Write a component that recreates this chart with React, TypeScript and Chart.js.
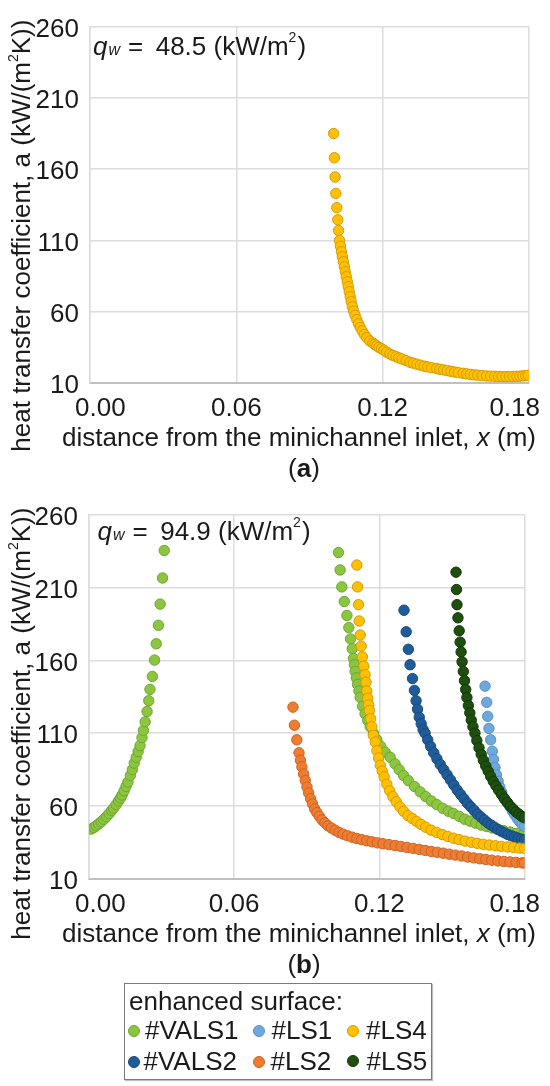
import React, { useEffect, useRef } from "react";
import { Chart, registerables } from "chart.js";

Chart.register(...registerables);

// ---------- axes ----------
const X_MIN = 0;
const X_MAX = 0.18;
const Y_MIN = 10;
const Y_MAX = 260;
const X_TICKS = [0, 0.06, 0.12, 0.18];
const X_TICK_LABELS = ["0.00", "0.06", "0.12", "0.18"];
const Y_TICKS = [10, 60, 110, 160, 210, 260];

// ---------- texts ----------
const X_TITLE_A = "distance from the minichannel inlet, ";
const X_TITLE_B = "x";
const X_TITLE_C = " (m)";
const Y_TITLE_A = "heat transfer coefficient, a (kW/(m";
const Y_TITLE_B = "2";
const Y_TITLE_C = "K))";
const QW_A = "48.5 (kW/m";
const QW_B = "94.9 (kW/m";
const LEGEND_TITLE = "enhanced surface:";

// ---------- data (x in m, heat transfer coefficient in kW/(m2K)) ----------
// chart (a), qw = 48.5 kW/m2
const LS4_A: [number, number][] = [
  [0.0999, 185], [0.1002, 168], [0.1005, 154.5], [0.1008, 143], [0.1012, 133], [0.1016, 124.5],
  [0.1019, 117], [0.1023, 110], [0.1027, 106], [0.1031, 102], [0.1035, 98.5], [0.1039, 95],
  [0.1043, 91.5], [0.1047, 88], [0.1051, 84.5], [0.1055, 81], [0.1059, 77.5], [0.1063, 74],
  [0.1067, 70.5], [0.1071, 67], [0.1076, 63.5], [0.1081, 60.5], [0.1087, 57.5], [0.1094, 54.5],
  [0.1101, 51.5], [0.1108, 49], [0.1116, 46.5], [0.1125, 44], [0.1135, 41.8], [0.1147, 39.5],
  [0.116, 38], [0.1168, 37], [0.1176, 36], [0.1185, 35], [0.1195, 34], [0.1205, 33],
  [0.1217, 31.6], [0.123, 30.3], [0.1242, 29.4], [0.1255, 28.5], [0.1267, 27.6], [0.128, 26.8],
  [0.1296, 25.7], [0.1312, 24.6], [0.1326, 23.9], [0.134, 23.2], [0.1355, 22.5], [0.137, 21.8],
  [0.1385, 21.3], [0.14, 20.8], [0.1421, 20.1], [0.1435, 19.6], [0.145, 19.2], [0.1465, 18.7],
  [0.148, 18.2], [0.1495, 17.7], [0.151, 17.3], [0.153, 16.8], [0.1545, 16.4], [0.156, 16],
  [0.1575, 15.7], [0.159, 15.5], [0.1608, 15.2], [0.1626, 14.9], [0.1643, 14.8], [0.166, 14.7],
  [0.1675, 14.6], [0.169, 14.5], [0.1705, 14.5], [0.172, 14.5], [0.1735, 14.6], [0.175, 14.7],
  [0.1763, 14.8], [0.1775, 15], [0.1787, 15.2], [0.1797, 15.4],
];

// chart (b), qw = 94.9 kW/m2
const VALS1_B: [number, number][] = [
  [0.0008, 44.2], [0.002, 45.3], [0.003, 46.5], [0.004, 47.8], [0.005, 49.2], [0.0061, 50.9],
  [0.0072, 52.7], [0.0083, 54.8], [0.0094, 57], [0.0102, 58.6], [0.0112, 61], [0.0122, 63.5],
  [0.013, 65.5], [0.0137, 67.6], [0.0145, 70.5], [0.0153, 73.5], [0.0161, 76.5], [0.0171, 81],
  [0.0179, 85], [0.0187, 89.5], [0.0195, 93.5], [0.0203, 97.5], [0.0211, 101.5], [0.0219, 107],
  [0.0225, 112], [0.0232, 117.8], [0.024, 124.9], [0.0247, 132.3], [0.0252, 140.1], [0.0262, 149],
  [0.0271, 160.2], [0.0278, 171.4], [0.0287, 184.1], [0.0294, 198.6], [0.0304, 216.5], [0.0311, 235.4],
  [0.1031, 234], [0.1038, 222], [0.1045, 210.4], [0.1055, 200.4], [0.1066, 190.8], [0.1074, 182.5],
  [0.1081, 174.7], [0.1088, 168], [0.1093, 161.3], [0.1097, 157], [0.11, 152.4], [0.1105, 148],
  [0.111, 143.5], [0.1116, 139], [0.1121, 134.6], [0.1131, 128.5], [0.1141, 123.4], [0.1152, 118.8],
  [0.1162, 114.5], [0.1176, 110], [0.119, 105.5], [0.1206, 101], [0.1224, 97], [0.1245, 93.5],
  [0.1265, 89], [0.1282, 85], [0.13, 81], [0.132, 77.5], [0.1345, 73.5], [0.1369, 69.8],
  [0.1392, 66.5], [0.1415, 63.5], [0.1438, 61], [0.1462, 58.5], [0.1485, 56.5], [0.1506, 55],
  [0.153, 53], [0.1553, 51], [0.1575, 49.7], [0.1598, 48.3], [0.1621, 47], [0.1644, 46],
  [0.1667, 45], [0.169, 44], [0.1713, 43.2], [0.174, 42.2], [0.1765, 41.3], [0.1796, 40.5],
];

const VALS2_B: [number, number][] = [
  [0.1302, 194.4], [0.1311, 179.6], [0.132, 167.6], [0.1327, 157], [0.1337, 147.5], [0.1345, 139.4],
  [0.1352, 132.3], [0.1358, 126.5], [0.1365, 121], [0.1373, 116.5], [0.1381, 112.5], [0.1389, 110],
  [0.14, 105.5], [0.1412, 101], [0.1425, 96.5], [0.1438, 92.5], [0.1452, 88.5], [0.1466, 85],
  [0.148, 81.5], [0.1494, 78], [0.1508, 74.5], [0.1522, 71], [0.1536, 68], [0.155, 65],
  [0.1564, 62], [0.1578, 59.5], [0.1592, 57], [0.1606, 54.5], [0.162, 52.5], [0.1634, 50.5],
  [0.1648, 48.5], [0.1662, 47], [0.1676, 45.5], [0.169, 44], [0.1704, 42.8], [0.1718, 41.6],
  [0.1732, 40.5], [0.1746, 39.6], [0.176, 38.8], [0.1774, 38], [0.1788, 37.3], [0.18, 36.8],
];

const LS1_B: [number, number][] = [
  [0.1637, 142.3], [0.1644, 131.2], [0.1648, 121.6], [0.1653, 113.3], [0.166, 105.5], [0.1667, 97.7],
  [0.1672, 92], [0.1678, 86.5], [0.1684, 81.5], [0.1691, 77], [0.1698, 73], [0.1706, 69.5],
  [0.1714, 66], [0.1722, 64], [0.1731, 62], [0.174, 59.5], [0.175, 56.5], [0.176, 54],
  [0.177, 51.5], [0.178, 49.5], [0.179, 47.5], [0.18, 46],
];

const LS2_B: [number, number][] = [
  [0.0843, 127.9], [0.0849, 115.5], [0.0859, 105.5], [0.0868, 96.6], [0.0874, 91.5], [0.088, 87],
  [0.0887, 82], [0.0894, 77.5], [0.0901, 73], [0.0908, 69], [0.0916, 65], [0.0924, 61.5],
  [0.0933, 58], [0.0942, 55.5], [0.0952, 53], [0.0963, 50.5], [0.0975, 48.5], [0.0988, 46.5],
  [0.1002, 45], [0.1017, 43.5], [0.1033, 42], [0.105, 40.8], [0.1068, 39.7], [0.1087, 38.7],
  [0.1107, 37.8], [0.1127, 37], [0.1148, 36.2], [0.117, 35.5], [0.1192, 34.8], [0.1215, 34.2],
  [0.124, 33.6], [0.1265, 33], [0.129, 32.3], [0.1315, 31.6], [0.134, 31], [0.1365, 30.3],
  [0.139, 29.6], [0.1415, 28.9], [0.144, 28.3], [0.1465, 27.7], [0.149, 27], [0.1515, 26.4],
  [0.154, 25.8], [0.1565, 25.1], [0.159, 24.5], [0.1615, 23.9], [0.164, 23.4], [0.1665, 22.9],
  [0.169, 22.4], [0.1715, 22], [0.174, 21.7], [0.1765, 21.4], [0.179, 21.1], [0.18, 21],
];

const LS4_B: [number, number][] = [
  [0.1107, 225.4], [0.111, 210.4], [0.1114, 198.2], [0.1117, 187], [0.1121, 177.4], [0.1125, 169.8],
  [0.113, 162.4], [0.1136, 156], [0.1141, 150.2], [0.1145, 145], [0.1148, 139], [0.1152, 134],
  [0.1156, 129.5], [0.1159, 125.6], [0.1164, 120], [0.1169, 114.5], [0.1175, 108.5], [0.1183, 104],
  [0.119, 98], [0.1197, 93], [0.1204, 88], [0.1212, 84], [0.122, 80], [0.1231, 75],
  [0.1243, 70.5], [0.1256, 66.5], [0.127, 63], [0.1285, 59.5], [0.13, 56.5], [0.1318, 53.5],
  [0.1336, 51.5], [0.1354, 49.5], [0.1372, 47.5], [0.1392, 45.5], [0.1414, 43.5], [0.1437, 42],
  [0.146, 40.5], [0.1483, 39.2], [0.1507, 38], [0.153, 37], [0.1555, 36], [0.158, 35.2],
  [0.1605, 34.5], [0.163, 33.8], [0.1655, 33.3], [0.168, 32.8], [0.1705, 32.4], [0.173, 32],
  [0.1755, 31.6], [0.178, 31.2], [0.18, 31],
];

const LS5_B: [number, number][] = [
  [0.1517, 220.5], [0.1519, 208.6], [0.1521, 198.2], [0.1525, 189.2], [0.153, 180.3], [0.1534, 172.5],
  [0.1538, 165.8], [0.1542, 159], [0.1547, 152.4], [0.1552, 146], [0.1557, 140], [0.1562, 134.5],
  [0.1568, 129], [0.1574, 124], [0.158, 119], [0.1587, 114.5], [0.1595, 110], [0.1603, 105],
  [0.1612, 100], [0.1621, 95.5], [0.163, 91.5], [0.164, 87.5], [0.165, 84], [0.166, 80.5],
  [0.1671, 77], [0.1682, 74], [0.1693, 71], [0.1705, 68], [0.1717, 65], [0.1729, 62.5],
  [0.1741, 60], [0.1753, 58], [0.1765, 56], [0.1777, 54.5], [0.1789, 53], [0.18, 52],
];

// ---------- styles ----------
const FAMILY = '"Liberation Sans", Arial, Helvetica, sans-serif';
const TEXT = "#1a1a1a";
const F26 = `26px ${FAMILY}`;
const F26I = `italic 26px ${FAMILY}`;
const F26B = `bold 26px ${FAMILY}`;
const F16I = `italic 16px ${FAMILY}`;
const F14 = `14px ${FAMILY}`;

const SERIES = {
  VALS1: { label: "#VALS1", fill: "#8cc63f", edge: "#6ea533" },
  LS1: { label: "#LS1", fill: "#6fa8dc", edge: "#5790c6" },
  LS4: { label: "#LS4", fill: "#ffc000", edge: "#d39a08" },
  VALS2: { label: "#VALS2", fill: "#1f5c99", edge: "#184a7d" },
  LS2: { label: "#LS2", fill: "#ee7d31", edge: "#c96424" },
  LS5: { label: "#LS5", fill: "#1e4f0e", edge: "#123a06" },
};

type Run = { text: string; font: string; dy?: number; gap?: number };

function runsWidth(ctx: CanvasRenderingContext2D, runs: Run[]) {
  let w = 0;
  for (const r of runs) {
    ctx.font = r.font;
    w += (r.gap || 0) + ctx.measureText(r.text).width;
  }
  return w;
}

function drawRuns(ctx: CanvasRenderingContext2D, runs: Run[], x: number, y: number) {
  let cx = x;
  for (const r of runs) {
    ctx.font = r.font;
    cx += r.gap || 0;
    ctx.fillText(r.text, cx, y + (r.dy || 0));
    cx += ctx.measureText(r.text).width;
  }
}

function makeTextPlugin(cfg: { qwText: string; qwDx: number; qwDy: number; panel: string }) {
  return {
    id: "panelTexts",
    afterDraw(chart: any) {
      const { ctx, chartArea, scales } = chart;
      const xs = scales.x;
      ctx.save();
      ctx.fillStyle = TEXT;
      ctx.textAlign = "left";
      ctx.textBaseline = "alphabetic";

      // x tick labels (kept inside the picture like the original)
      ctx.font = F26;
      X_TICKS.forEach((v, i) => {
        const label = X_TICK_LABELS[i];
        const w = ctx.measureText(label).width;
        let left = xs.getPixelForValue(v) - w / 2;
        left = Math.max(75, Math.min(540 - w, left));
        ctx.fillText(label, left, chartArea.bottom + 32.5);
      });

      // x title
      const xRuns: Run[] = [
        { text: X_TITLE_A, font: F26 },
        { text: X_TITLE_B, font: F26I },
        { text: X_TITLE_C, font: F26 },
      ];
      const xw = runsWidth(ctx, xRuns);
      drawRuns(ctx, xRuns, 299 - xw / 2, chartArea.bottom + 63);

      // panel label
      const pRuns: Run[] = [
        { text: "(", font: F26 },
        { text: cfg.panel, font: F26B },
        { text: ")", font: F26 },
      ];
      const pw = runsWidth(ctx, pRuns);
      drawRuns(ctx, pRuns, 304 - pw / 2, chartArea.bottom + 93.5);

      // y title (rotated)
      const yRuns: Run[] = [
        { text: Y_TITLE_A, font: F26 },
        { text: Y_TITLE_B, font: F14, dy: -12 },
        { text: Y_TITLE_C, font: F26 },
      ];
      const yw = runsWidth(ctx, yRuns);
      ctx.save();
      ctx.translate(30, chartArea.top - 7);
      ctx.rotate(-Math.PI / 2);
      drawRuns(ctx, yRuns, -yw, 0);
      ctx.restore();

      // qw annotation
      const qRuns: Run[] = [
        { text: "q", font: F26I },
        { text: "w", font: F16I, gap: 1 },
        { text: "=", font: F26, gap: 8 },
        { text: cfg.qwText, font: F26, gap: 12.5 },
        { text: "2", font: F14, dy: -13 },
        { text: ")", font: F26, gap: 1 },
      ];
      drawRuns(ctx, qRuns, chartArea.left + cfg.qwDx, chartArea.top + cfg.qwDy);
      ctx.restore();
    },
  };
}

function makeOptions(padTop: number, padRight: number, yWidth: number, xHeight: number) {
  return {
    responsive: false,
    animation: false as const,
    layout: { padding: { top: padTop, right: padRight, left: 0, bottom: 0 } },
    plugins: { legend: { display: false }, tooltip: { enabled: false } },
    elements: { point: { pointStyle: "circle" } },
    scales: {
      x: {
        type: "linear" as const,
        min: X_MIN,
        max: X_MAX,
        afterBuildTicks: (s: any) => {
          s.ticks = X_TICKS.map((v) => ({ value: v }));
        },
        afterFit: (s: any) => {
          s.height = xHeight;
        },
        ticks: { display: false },
        grid: { color: "#dcdcdc", lineWidth: 1.5, drawTicks: false },
        border: { color: "#bfbfbf", width: 2 },
        title: { display: false },
      },
      y: {
        type: "linear" as const,
        min: Y_MIN,
        max: Y_MAX,
        afterBuildTicks: (s: any) => {
          s.ticks = Y_TICKS.map((v) => ({ value: v }));
        },
        afterFit: (s: any) => {
          s.width = yWidth;
        },
        ticks: { font: { family: FAMILY, size: 26 }, color: TEXT, padding: 11, labelOffset: 3 },
        grid: { color: "#dcdcdc", lineWidth: 1.5, drawTicks: false },
        border: { color: "#dcdcdc", width: 1.5 },
        title: { display: false },
      },
    },
  };
}

function ds(key: keyof typeof SERIES, pts: [number, number][]) {
  const s = SERIES[key];
  return {
    label: s.label,
    data: pts.map(([x, y]) => ({ x, y })),
    showLine: false,
    pointRadius: 5.2,
    pointBorderWidth: 1,
    backgroundColor: s.fill,
    borderColor: s.edge,
    pointBackgroundColor: s.fill,
    pointBorderColor: s.edge,
  };
}

const LEGEND_ROWS: { key: keyof typeof SERIES; cx: number; cy: number; tx: number; top: number }[] = [
  { key: "VALS1", cx: 134, cy: 1030.5, tx: 145, top: 1017 },
  { key: "LS1", cx: 259, cy: 1031, tx: 271.5, top: 1017 },
  { key: "LS4", cx: 353, cy: 1031, tx: 366, top: 1017 },
  { key: "VALS2", cx: 133.5, cy: 1061.5, tx: 143.5, top: 1048 },
  { key: "LS2", cx: 259, cy: 1061.5, tx: 270.5, top: 1048 },
  { key: "LS5", cx: 353, cy: 1060.5, tx: 366.5, top: 1048 },
];

export default function App() {
  const refA = useRef<HTMLCanvasElement | null>(null);
  const refB = useRef<HTMLCanvasElement | null>(null);

  useEffect(() => {
    if (!refA.current || !refB.current) return;
    const chartA = new Chart(refA.current, {
      type: "scatter",
      data: { datasets: [ds("LS4", LS4_A)] },
      options: makeOptions(13, 21, 90, 105) as any,
      plugins: [makeTextPlugin({ qwText: QW_A, qwDx: 3, qwDy: 28.7, panel: "a" })],
    });
    const chartB = new Chart(refB.current, {
      type: "scatter",
      data: {
        datasets: [
          ds("LS5", LS5_B),
          ds("LS4", LS4_B),
          ds("LS2", LS2_B),
          ds("LS1", LS1_B),
          ds("VALS2", VALS2_B),
          ds("VALS1", VALS1_B),
        ],
      },
      options: makeOptions(18, 25.5, 89, 104) as any,
      plugins: [makeTextPlugin({ qwText: QW_B, qwDx: 8.5, qwDy: 25.7, panel: "b" })],
    });
    return () => {
      chartA.destroy();
      chartB.destroy();
    };
  }, []);

  const textStyle: React.CSSProperties = {
    position: "absolute",
    fontFamily: FAMILY,
    fontSize: 26,
    lineHeight: "26px",
    color: TEXT,
    whiteSpace: "nowrap",
  };

  return (
    <div
      style={{
        position: "absolute",
        left: 0,
        top: 0,
        width: 550,
        height: 1086,
        background: "#ffffff",
        overflow: "hidden",
      }}
    >
      <canvas
        ref={refA}
        width={550}
        height={488}
        style={{ position: "absolute", left: 0, top: 0, width: 550, height: 488 }}
      />
      <canvas
        ref={refB}
        width={550}
        height={495}
        style={{ position: "absolute", left: 0, top: 488, width: 550, height: 495 }}
      />
      <div
        style={{
          position: "absolute",
          left: 124,
          top: 983,
          width: 308,
          height: 97,
          boxSizing: "border-box",
          border: "1.5px solid #7a7a7a",
          boxShadow: "1px 1px 1px rgba(0,0,0,0.25)",
          background: "#ffffff",
        }}
      />
      <span style={{ ...textStyle, left: 129, top: 988 }}>{LEGEND_TITLE}</span>
      {LEGEND_ROWS.map((r) => (
        <React.Fragment key={r.key}>
          <div
            style={{
              position: "absolute",
              left: r.cx - 6,
              top: r.cy - 6,
              width: 12,
              height: 12,
              borderRadius: "50%",
              boxSizing: "border-box",
              background: SERIES[r.key].fill,
              border: `1px solid ${SERIES[r.key].edge}`,
            }}
          />
          <span style={{ ...textStyle, left: r.tx, top: r.top }}>{SERIES[r.key].label}</span>
        </React.Fragment>
      ))}
    </div>
  );
}
